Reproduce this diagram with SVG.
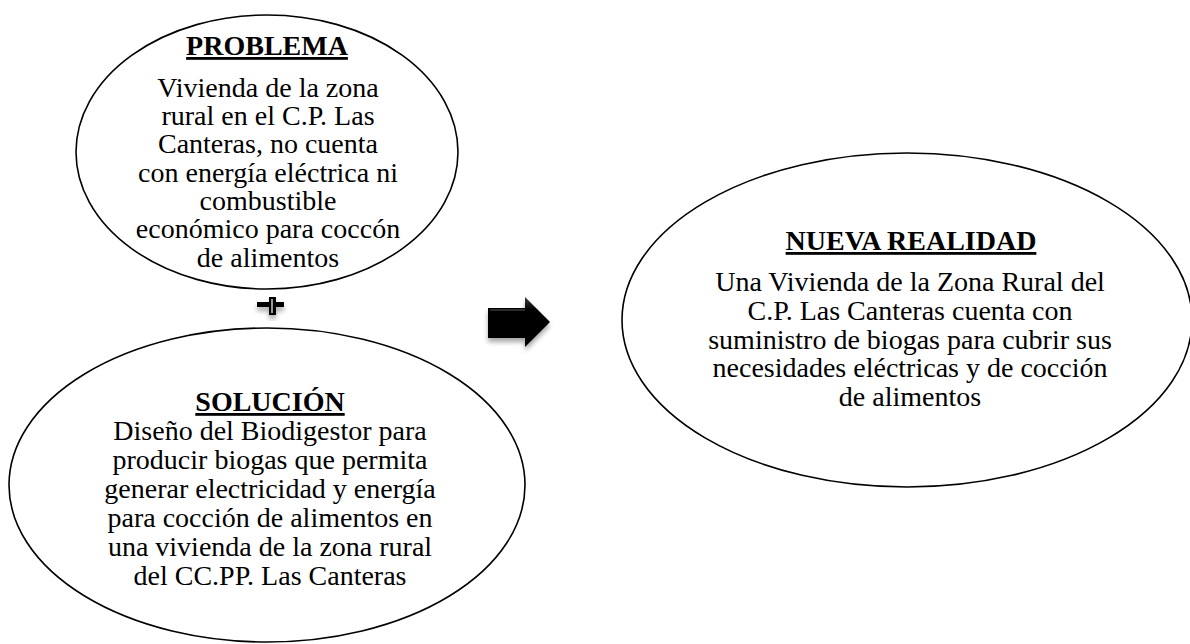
<svg xmlns="http://www.w3.org/2000/svg" width="1190" height="644" viewBox="0 0 1190 644">
<style>
.shape{fill:#fff;stroke:#000;stroke-width:1.6}
.t{font-family:"Liberation Serif","Times New Roman",serif;font-size:28px;fill:#000;text-anchor:middle}
.h{font-weight:bold;text-decoration:underline}
</style>
<defs>
<linearGradient id="ag" x1="0" y1="0" x2="0" y2="1">
<stop offset="0" stop-color="#3a3a3a"/>
<stop offset="0.25" stop-color="#000"/>
<stop offset="1" stop-color="#000"/>
</linearGradient>
<filter id="sh" x="-30%" y="-30%" width="160%" height="160%">
<feGaussianBlur in="SourceAlpha" stdDeviation="2.5"/>
<feOffset dx="0" dy="4"/>
<feComponentTransfer><feFuncA type="linear" slope="0.35"/></feComponentTransfer>
<feMerge><feMergeNode/><feMergeNode in="SourceGraphic"/></feMerge>
</filter>
</defs>
<rect width="1190" height="644" fill="#fff"/>
<g id="problema">
<ellipse class="shape" cx="267" cy="152" rx="191" ry="137"/>
<text class="t h" x="267" y="55">PROBLEMA</text>
<text class="t" x="268" y="97">Vivienda de la zona</text>
<text class="t" x="268" y="125">rural en el C.P. Las</text>
<text class="t" x="268" y="153">Canteras, no cuenta</text>
<text class="t" x="268" y="182">con energía eléctrica ni</text>
<text class="t" x="268" y="210">combustible</text>
<text class="t" x="268" y="238">económico para coccón</text>
<text class="t" x="268" y="267">de alimentos</text>
</g>
<g id="solucion">
<ellipse class="shape" cx="267" cy="485" rx="258" ry="157"/>
<text class="t h" x="270" y="411">SOLUCIÓN</text>
<text class="t" x="270" y="440">Diseño del Biodigestor para</text>
<text class="t" x="270" y="469">producir biogas que permita</text>
<text class="t" x="270" y="498">generar electricidad y energía</text>
<text class="t" x="270" y="527">para cocción de alimentos en</text>
<text class="t" x="270" y="556">una vivienda de la zona rural</text>
<text class="t" x="270" y="585">del CC.PP. Las Canteras</text>
</g>
<g id="nueva-realidad">
<ellipse class="shape" cx="907" cy="320" rx="285" ry="167"/>
<text class="t h" x="911" y="250">NUEVA REALIDAD</text>
<text class="t" x="910" y="291">Una Vivienda de la Zona Rural del</text>
<text class="t" x="910" y="320">C.P. Las Canteras cuenta con</text>
<text class="t" x="910" y="349">suministro de biogas para cubrir sus</text>
<text class="t" x="910" y="377">necesidades eléctricas y de cocción</text>
<text class="t" x="910" y="406">de alimentos</text>
</g>
<g id="connectors">
<g id="plus" filter="url(#sh)">
<path d="M257,302 H269 V297 H276 V302 H284 V307 H276 V315 H269 V307 H257 Z" fill="#000"/>
<line x1="272" y1="299" x2="272" y2="313" stroke="#c8d0d0" stroke-width="1.5"/>
</g>
<g id="arrow" filter="url(#sh)">
<path d="M488,308 H525 V297 L550,322 L525,347 V338 H488 Z" fill="url(#ag)"/>
<path d="M490,310 H525" stroke="#555" stroke-width="1"/>
</g>
</g>
</svg>
